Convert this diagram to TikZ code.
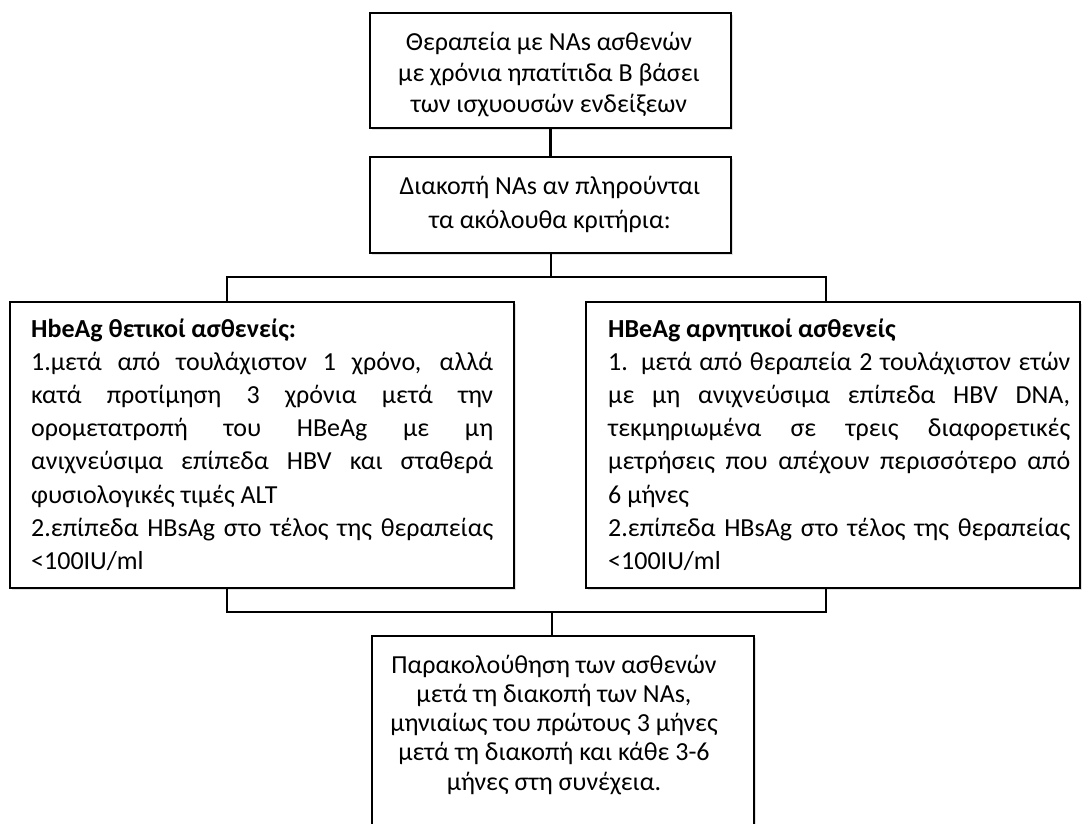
\documentclass[tikz,border=0pt]{standalone}
\usepackage{fontspec}
\setmainfont{Carlito}
\usetikzlibrary{shadows}
\begin{document}
\begin{tikzpicture}[x=1pt,y=-1pt,
  box/.style={draw=black, line width=1.8pt, fill=white, inner sep=0pt,
    drop shadow={shadow xshift=2pt, shadow yshift=-2pt, fill=black!40, opacity=0.3}},
  conn/.style={line width=2.6pt},
  ln/.style={inner sep=0pt, anchor=base, font=\fontsize{26}{30}\selectfont},
  lnw/.style={ln, anchor=base west}
]
\useasboundingbox (0,0) rectangle (1082,823);
\clip (0,0) rectangle (1082,823);

% boxes
\node[box, minimum width=361pt, minimum height=115pt] (top) at (550.5,70.5) {};
\node[box, minimum width=361pt, minimum height=96pt] (stop) at (550.5,205) {};
\node[box, minimum width=504pt, minimum height=286pt] (left) at (262,445) {};
\node[box, minimum width=494pt, minimum height=286pt] (right) at (833,445) {};
\node[box, minimum width=382pt, minimum height=224pt] (follow) at (563,748) {};

% connectors
\coordinate (j1) at (551,277);
\coordinate (lt) at (227,277);
\coordinate (rt) at (826,277);
\coordinate (j2) at (552,612);
\coordinate (lb) at (227,612);
\coordinate (rb) at (826,612);
\draw[conn] (top) -- (stop);
\draw[conn] (stop.south -| j1) -- (j1);
\draw[conn] (lt |- left.north) -- (lt) -- (rt) -- (rt |- right.north);
\draw[conn] (lb |- left.south) -- (lb) -- (rb) -- (rb |- right.south);
\draw[conn] (j2) -- (j2 |- follow.north);

% top box text
\node[ln] (t1) at (549,50) {Θεραπεία με NAs ασθενών};
\node[ln] (t2) at (549,81) {με χρόνια ηπατίτιδα Β βάσει};
\node[ln] (t3) at (549,112) {των ισχυουσών ενδείξεων};

% stop box text
\node[ln] (s1) at (550,194) {Διακοπή NAs αν πληρούνται};
\node[ln] (s2) at (550,228) {τα ακόλουθα κριτήρια:};

% left box text
\node[lnw] (l0) at (31,337) {\textbf{HbeAg θετικοί ασθενείς:}};
\node[lnw] (l1) at (31,370) {\makebox[462pt][s]{1.μετά από τουλάχιστον 1 χρόνο, αλλά}};
\node[lnw] (l2) at (31,403) {\makebox[462pt][s]{κατά προτίμηση 3 χρόνια μετά την}};
\node[lnw] (l3) at (31,436.5) {\makebox[462pt][s]{ορομετατροπή του HBeAg με μη}};
\node[lnw] (l4) at (31,469.5) {\makebox[462pt][s]{ανιχνεύσιμα επίπεδα HBV και σταθερά}};
\node[lnw] (l5) at (31,503) {φυσιολογικές τιμές ALT};
\node[lnw] (l6) at (31,536) {\makebox[462pt][s]{2.επίπεδα HBsAg στο τέλος της θεραπείας}};
\node[lnw] (l7) at (31,569) {<100IU/ml};

% right box text
\node[lnw] (r0) at (608,337) {\textbf{HBeAg αρνητικοί ασθενείς}};
\node[lnw] (r1) at (608,370) {\makebox[462pt][s]{1. μετά από θεραπεία 2 τουλάχιστον ετών}};
\node[lnw] (r2) at (608,403) {\makebox[462pt][s]{με μη ανιχνεύσιμα επίπεδα HBV DNA,}};
\node[lnw] (r3) at (608,436.5) {\makebox[462pt][s]{τεκμηριωμένα σε τρεις διαφορετικές}};
\node[lnw] (r4) at (608,469.5) {\makebox[462pt][s]{μετρήσεις που απέχουν περισσότερο από}};
\node[lnw] (r5) at (608,503) {6 μήνες};
\node[lnw] (r6) at (608,536) {\makebox[462pt][s]{2.επίπεδα HBsAg στο τέλος της θεραπείας}};
\node[lnw] (r7) at (608,569) {<100IU/ml};

% follow-up box text
\node[ln] (f1) at (554,673) {Παρακολούθηση των ασθενών};
\node[ln] (f2) at (554,702.3) {μετά τη διακοπή των NAs,};
\node[ln] (f3) at (554,731.5) {μηνιαίως του πρώτους 3 μήνες};
\node[ln] (f4) at (554,760.8) {μετά τη διακοπή και κάθε 3-6};
\node[ln] (f5) at (554,790) {μήνες στη συνέχεια.};
\end{tikzpicture}
\end{document}
